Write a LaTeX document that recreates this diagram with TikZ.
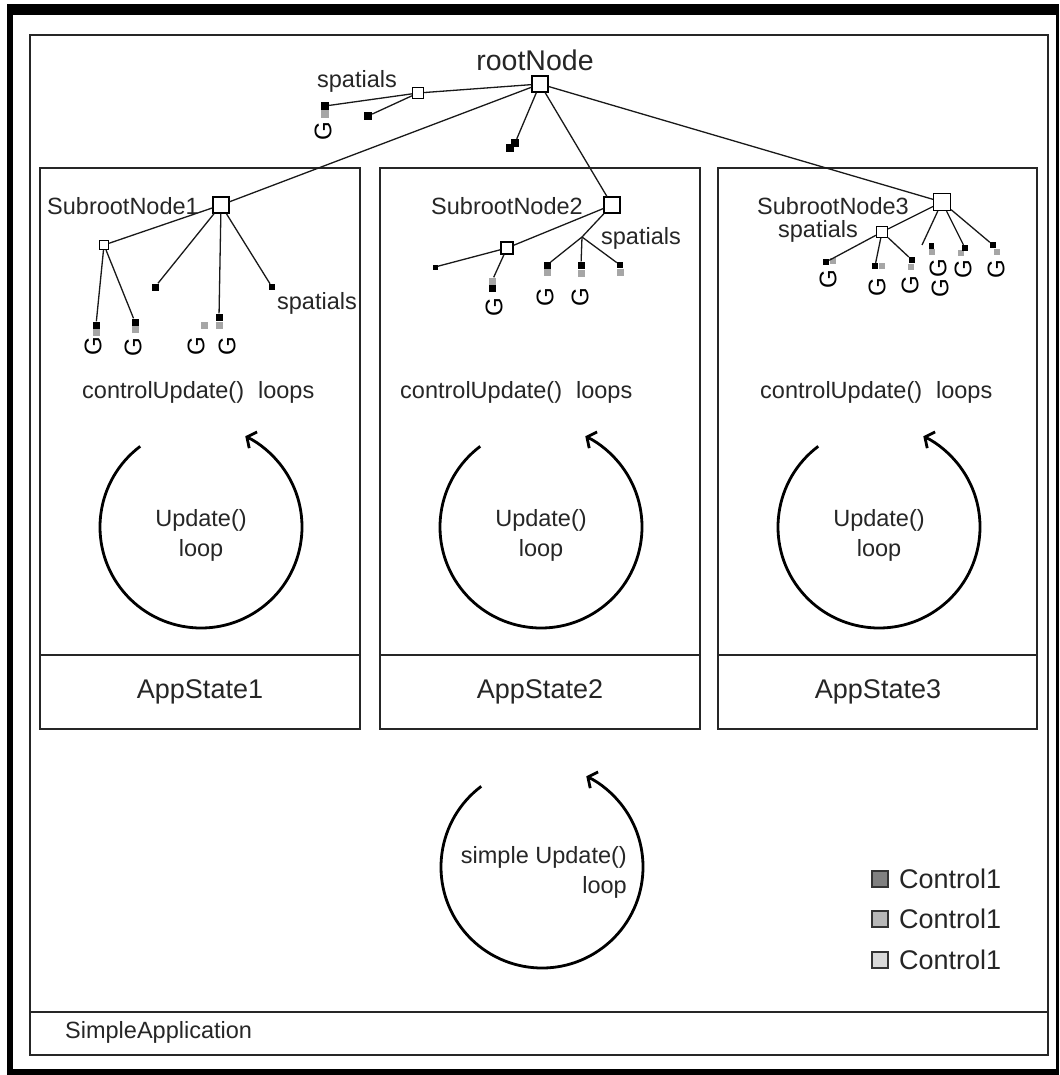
\documentclass[tikz,border=0pt]{standalone}
\usepackage{fontspec}
\setmainfont{Liberation Sans}
\usetikzlibrary{arrows.meta,calc}
\begin{document}
\begin{tikzpicture}[x=1pt,y=-1pt,
  boxline/.style={draw=black!85,line width=1.6pt},
  lbl/.style={font=\fontsize{23.5}{30}\selectfont,inner sep=0pt,text=black!85},
  biglbl/.style={font=\fontsize{27}{30}\selectfont,inner sep=0pt,text=black!85},
  sq/.style={draw=black,fill=white,line width=1.2pt,minimum size=#1,inner sep=0pt},
  bk/.style={fill=black,minimum size=#1,inner sep=0pt},
  gr/.style={fill=black!35,minimum size=#1,inner sep=0pt},
  gl/.style={font=\fontsize{24}{24}\selectfont,rotate=90,inner sep=0pt},
  tline/.style={line width=1.3pt,draw=black!90},
  loopc/.style={line width=2.8pt,-{Straight Barb[length=7pt,width=18pt,line width=2.8pt]}},
  legsq/.style={draw=black!80,line width=1.2pt,minimum size=16pt,inner sep=0pt},
]
\useasboundingbox (0,0) rectangle (1059,1075);
% outer thick frame
\fill[black] (7,4) rectangle (1059,1075);
\fill[white] (13,15) rectangle (1056,1069);
% main box
\draw[boxline] (30,35) rectangle (1048,1055);
\draw[boxline] (30,1012) -- (1048,1012);
\node[lbl,anchor=west] (app) at (65,1032) {SimpleApplication};
% app state boxes
\draw[boxline] (40,168) rectangle (360,729);
\draw[boxline] (40,655) -- (360,655);
\draw[boxline] (380,168) rectangle (700,729);
\draw[boxline] (380,655) -- (700,655);
\draw[boxline] (718,168) rectangle (1037,729);
\draw[boxline] (718,655) -- (1037,655);
\node[biglbl] (as1) at (200,692) {AppState1};
\node[biglbl] (as2) at (540,692) {AppState2};
\node[biglbl] (as3) at (878,692) {AppState3};
% controlUpdate labels
\node[lbl,anchor=base west] (cu1) at (82,398) {controlUpdate()\hspace{14pt}loops};
\node[lbl,anchor=base west] (cu2) at (400,398) {controlUpdate()\hspace{14pt}loops};
\node[lbl,anchor=base west] (cu3) at (760,398) {controlUpdate()\hspace{14pt}loops};
% loops
\coordinate (c1) at (201,527);
\coordinate (c2) at (541,527);
\coordinate (c3) at (879,527);
\coordinate (c4) at (542,867);
\foreach \c in {c1,c2,c3,c4}{
  \draw[loopc] ($(\c)+(233:101)$) arc[start angle=233,end angle=-64,radius=101];
}
\node[lbl,align=center] (ul1) at (201,535) {Update()\\loop};
\node[lbl,align=center] (ul2) at (541,535) {Update()\\loop};
\node[lbl,align=center] (ul3) at (879,535) {Update()\\loop};
\node[lbl,align=right,anchor=east] (ul4) at (627,872) {simple Update()\\loop};
% legend
\node[legsq,fill=black!50] (lg1) at (880,879) {};
\node[legsq,fill=black!28] (lg2) at (880,919) {};
\node[legsq,fill=black!15] (lg3) at (880,960) {};
\node[biglbl,anchor=west] (lt1) at (899,879) {Control1};
\node[biglbl,anchor=west] (lt2) at (899,919) {Control1};
\node[biglbl,anchor=west] (lt3) at (899,960) {Control1};
% ---------- root tree
\node[sq=16pt] (root) at (540,84) {};
\node[lbl,font=\fontsize{28.5}{30}\selectfont] (rootlbl) at (535,60) {rootNode};
\node[lbl] (sp0) at (357,81) {spatials};
\node[sq=11pt] (s0) at (418,93) {};
\node[bk=8pt] (la) at (325,106) {};
\node[gr=8pt] (lag) at (325,114) {};
\node[gl] (ga) at (323,131) {G};
\node[bk=8pt] (lb) at (368,116) {};
\node[bk=8pt] (dd1) at (510,148) {};
\node[bk=8pt] (dd2) at (515,143) {};
\draw[tline] (root) -- (s0);
\draw[tline] (s0) -- (la);
\draw[tline] (s0) -- (lb);
\draw[tline] (root) -- (dd2);
% subtree 1
\node[sq=16pt] (sub1) at (221,205) {};
\node[lbl] (sub1lbl) at (123,206) {SubrootNode1};
\node[sq=9pt] (k1) at (104,245) {};
\node[bk=7pt] (k1a) at (96,325) {};
\node[gr=7pt] (k1ag) at (96,332) {};
\node[gl] (g1a) at (93,346) {G};
\node[bk=7pt] (k1b) at (135,322) {};
\node[gr=7pt] (k1bg) at (135,329) {};
\node[gl] (g1b) at (133,347) {G};
\node[bk=7pt] (m1) at (155,287) {};
\node[bk=7pt] (m2) at (219,317) {};
\node[gr=7pt] (m2g) at (219,325) {};
\node[gr=7pt] (m2h) at (204,325) {};
\node[gl] (g1c) at (196,346) {G};
\node[gl] (g1d) at (227,346) {G};
\node[bk=6pt] (m3) at (272,287) {};
\node[lbl] (sp1) at (317,303) {spatials};
\draw[tline] (root) -- (sub1);
\draw[tline] (sub1) -- (k1);
\draw[tline] (k1) -- (k1a);
\draw[tline] (k1) -- (k1b);
\draw[tline] (sub1) -- (m1);
\draw[tline] (sub1) -- (m2);
\draw[tline] (sub1) -- (m3);
% subtree 2
\node[sq=16pt] (sub2) at (612,205) {};
\node[lbl] (sub2lbl) at (507,206) {SubrootNode2};
\node[sq=12pt] (k2) at (507,248) {};
\node[bk=5pt] (t2) at (435,267) {};
\node[gr=7pt] (n2g) at (492,281) {};
\node[bk=7pt] (n2) at (492,288) {};
\node[gl] (g2a) at (494,307) {G};
\coordinate (bp2) at (582,237);
\node[lbl] (sp2) at (641,238) {spatials};
\node[bk=7pt] (p1) at (547,265) {};
\node[gr=7pt] (p1g) at (547,272) {};
\node[bk=7pt] (p2) at (581,265) {};
\node[gr=7pt] (p2g) at (581,273) {};
\node[bk=6pt] (p3) at (620,265) {};
\node[gr=7pt] (p3g) at (620,272) {};
\node[gl] (g2b) at (545,297) {G};
\node[gl] (g2c) at (580,297) {G};
\draw[tline] (root) -- (sub2);
\draw[tline] (sub2) -- (k2);
\draw[tline] (k2) -- (t2);
\draw[tline] (k2) -- (n2g);
\draw[tline] (sub2) -- (bp2);
\draw[tline] (bp2) -- (p1);
\draw[tline] (bp2) -- (p2);
\draw[tline] (bp2) -- (p3);
% subtree 3
\node[sq=17pt] (sub3) at (942,202) {};
\node[lbl] (sub3lbl) at (833,206) {SubrootNode3};
\node[lbl] (sp3) at (818,231) {spatials};
\node[sq=11pt] (k3) at (882,232) {};
\node[bk=6pt] (q1) at (826,262) {};
\node[gr=6pt] (q1g) at (833,261) {};
\node[gl] (g3a) at (828,279) {G};
\node[bk=6pt] (q2) at (875,266) {};
\node[gr=6pt] (q2g) at (882,266) {};
\node[gl] (g3b) at (877,287) {G};
\node[bk=6pt] (q3) at (912,260) {};
\node[gr=6pt] (q3g) at (911,267) {};
\node[gl] (g3c) at (910,285) {G};
\coordinate (e3) at (922,245);
\node[bk=5pt] (r1) at (931,246) {};
\node[gr=6pt] (r1g) at (932,252) {};
\node[gl] (g3d) at (938,268) {G};
\node[gl] (g3e) at (940,288) {G};
\node[gr=6pt] (r2g) at (961,253) {};
\node[bk=6pt] (r2) at (965,248) {};
\node[gl] (g3f) at (963,269) {G};
\node[bk=6pt] (r3) at (993,245) {};
\node[gr=6pt] (r3g) at (997,252) {};
\node[gl] (g3g) at (996,269) {G};
\draw[tline] (root) -- (sub3);
\draw[tline] (sub3) -- (k3);
\draw[tline] (k3) -- (q1);
\draw[tline] (k3) -- (q2);
\draw[tline] (k3) -- (q3);
\draw[tline] (sub3) -- (e3);
\draw[tline] (sub3) -- (r2);
\draw[tline] (sub3) -- (r3);
\end{tikzpicture}
\end{document}
